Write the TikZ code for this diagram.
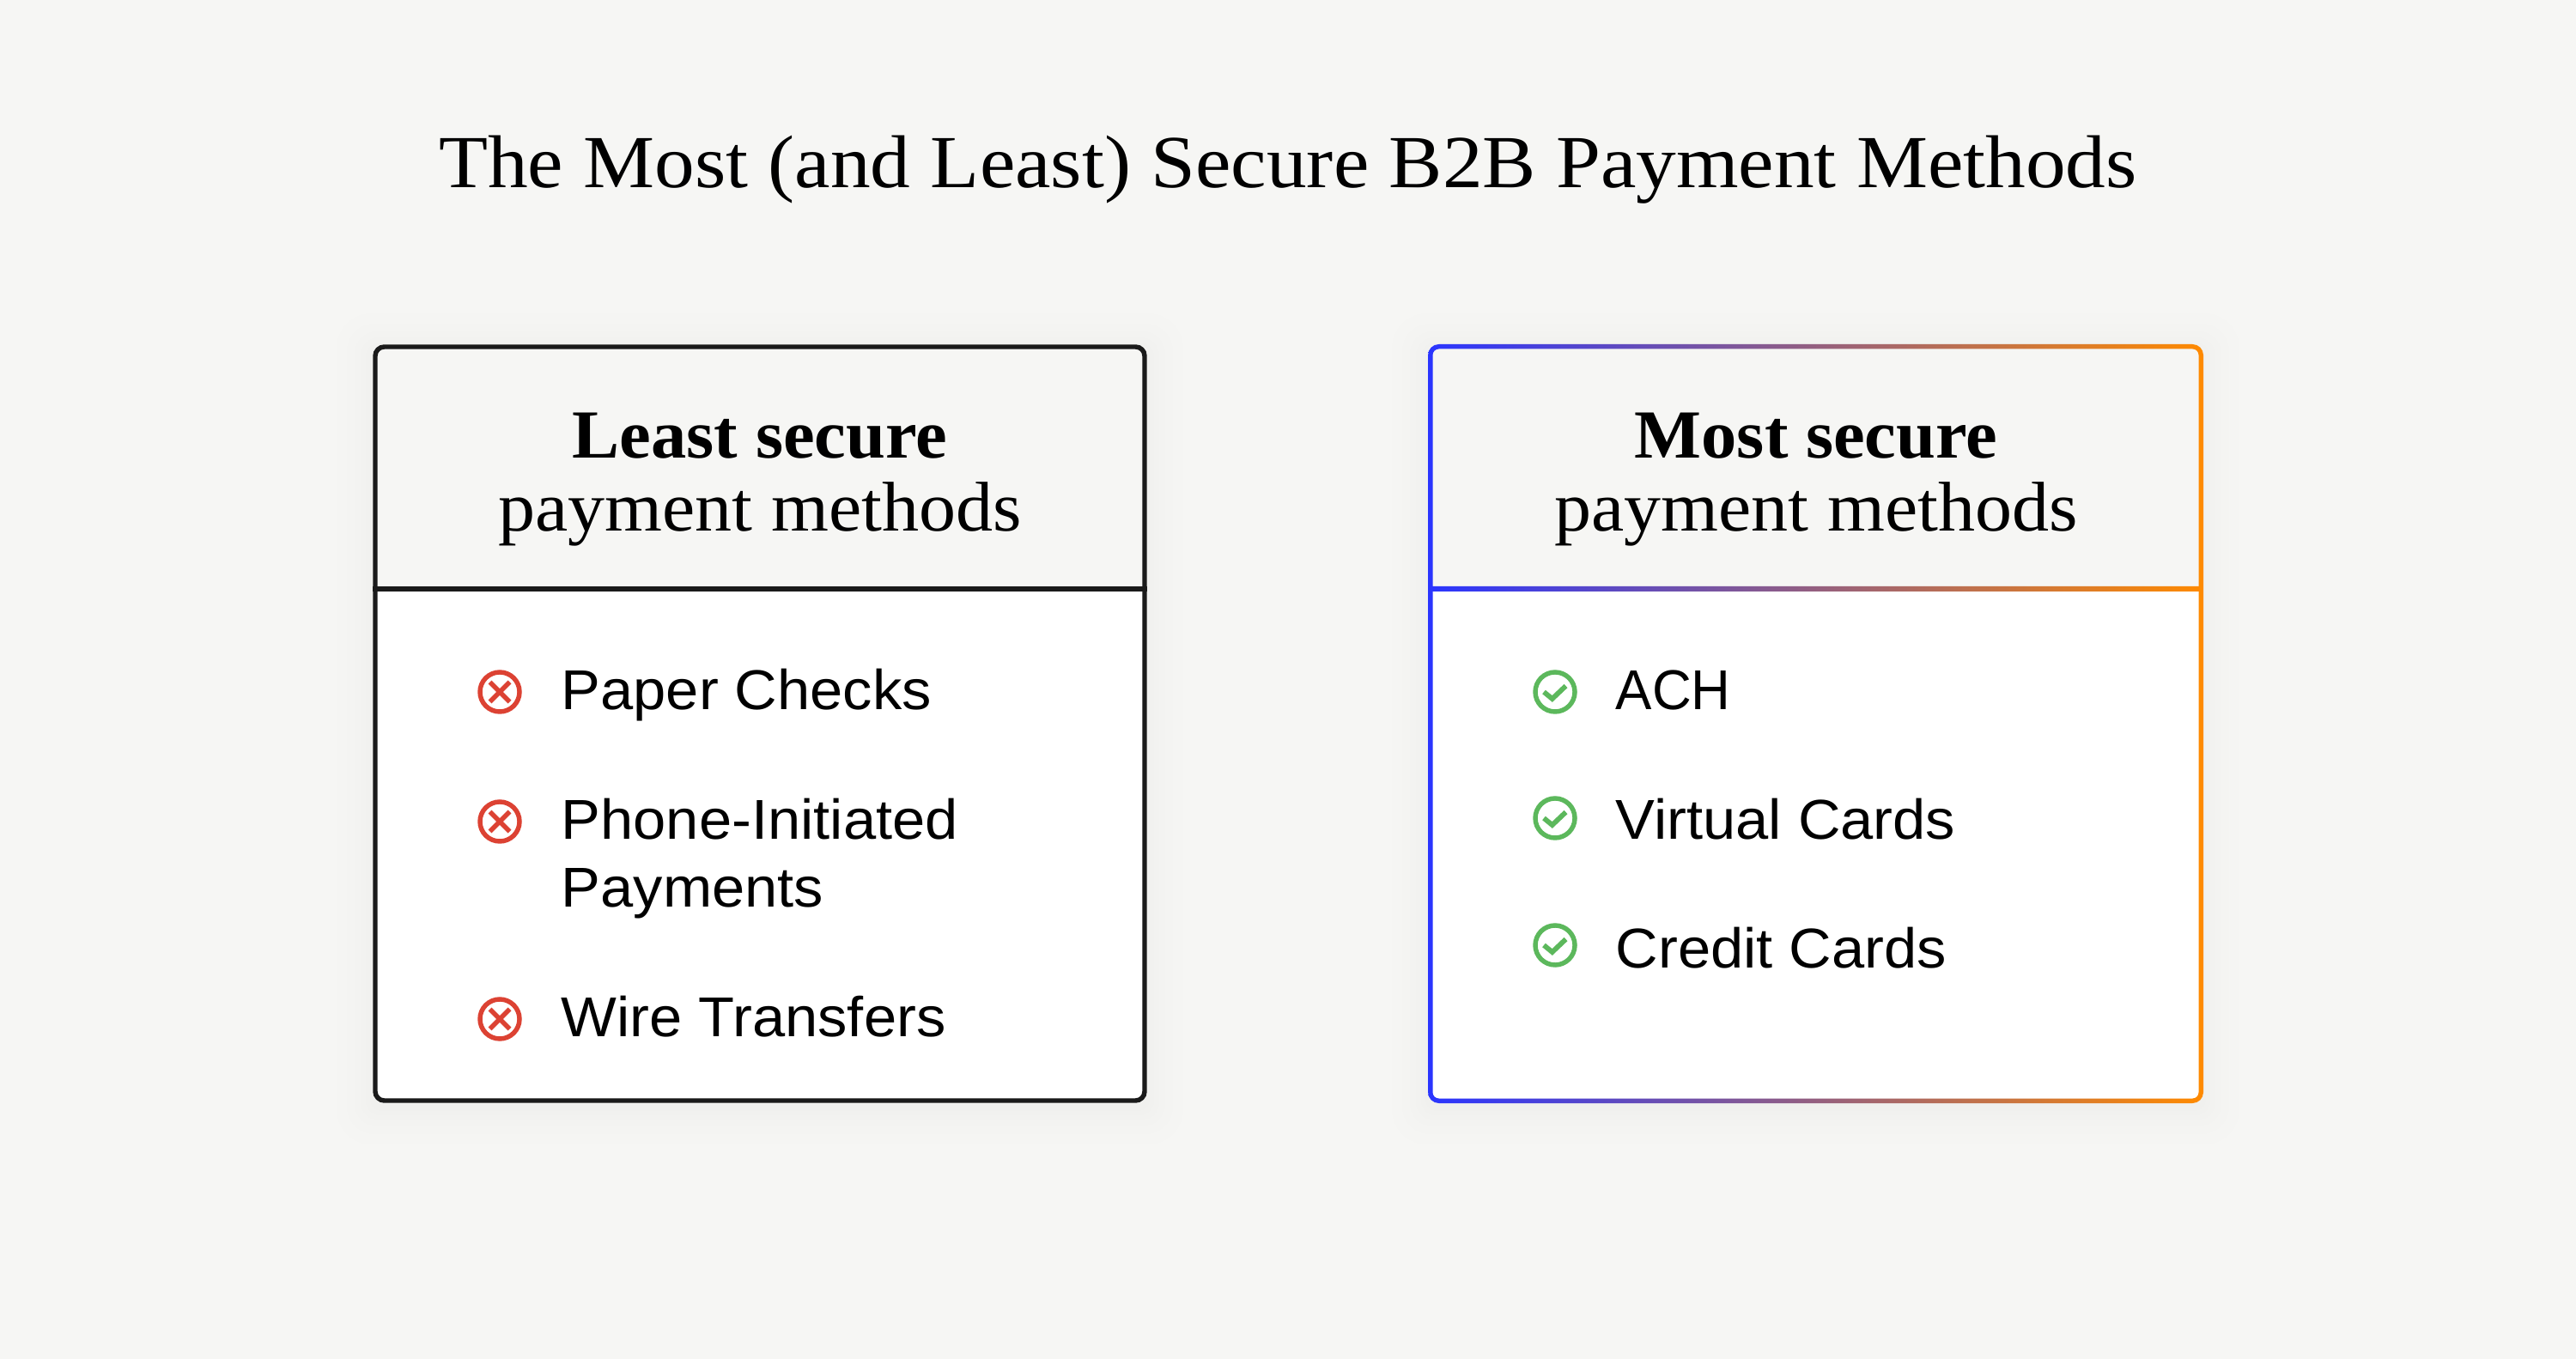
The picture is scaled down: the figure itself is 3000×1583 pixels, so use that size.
\documentclass[tikz,border=0pt]{standalone}
\usepackage{fontspec}
\setmainfont{Liberation Serif}
\newfontfamily\titlefont[FakeStretch=1.07]{Liberation Serif}
\newfontfamily\headfont[FakeStretch=1.03]{Liberation Serif}
\newfontfamily\subfont[FakeStretch=1.05]{Liberation Serif}
\newfontfamily\itemfont[FakeStretch=1.05]{Liberation Sans}
\newfontfamily\capsfont[FakeStretch=0.97]{Liberation Sans}
\definecolor{pagegray}{HTML}{F6F6F4}
\definecolor{framedark}{HTML}{1A1A1A}
\definecolor{crossred}{HTML}{DC4233}
\definecolor{checkgreen}{HTML}{5CB85C}
\definecolor{frameblue}{HTML}{2A35FF}
\definecolor{frameorange}{HTML}{FF8A00}
\tikzset{
    titletext/.style={anchor=base,inner sep=0pt,font=\titlefont\fontsize{24.8}{28}\selectfont},
    headbold/.style={anchor=base,inner sep=0pt,font=\headfont\fontsize{22.8}{26}\selectfont\bfseries},
    headthin/.style={anchor=base,inner sep=0pt,font=\subfont\fontsize{23.3}{26}\selectfont},
    itemtext/.style={anchor=base west,inner sep=0pt,font=\itemfont\fontsize{18.6}{22}\selectfont},
    achtext/.style={anchor=base west,inner sep=0pt,font=\capsfont\fontsize{18.6}{22}\selectfont},
    crossicon/.style={circle,draw=crossred,line width=1.55pt,minimum size=.46cm,inner sep=0pt,
        path picture={
            \draw[crossred,line width=1.55pt]
                ([shift={(-11.5,-11.5)}]path picture bounding box.center) -- ([shift={(11.5,11.5)}]path picture bounding box.center)
                ([shift={(-11.5,11.5)}]path picture bounding box.center) -- ([shift={(11.5,-11.5)}]path picture bounding box.center);
        }},
    checkicon/.style={circle,draw=checkgreen,line width=1.55pt,minimum size=.46cm,inner sep=0pt,
        path picture={
            \draw[checkgreen,line width=1.65pt]
                ([shift={(-13,0)}]path picture bounding box.center) -- ([shift={(-3.3,8)}]path picture bounding box.center)
                -- ([shift={(12.5,-7)}]path picture bounding box.center);
        }},
}
\begin{document}
\begin{tikzpicture}[x=0.01cm,y=-0.01cm]
    \useasboundingbox (0,0) rectangle (3000,1583);
    \fill[pagegray] (0,0) rectangle (3000,1583);
    % Schatten
    \foreach \r in {3,8,14,21,30,42} {
        \fill[black,opacity=0.004,rounded corners=\r*0.2pt+3pt] (434-\r,407-\r) rectangle (1336+\r,1291+\r);
        \fill[black,opacity=0.004,rounded corners=\r*0.2pt+3pt] (1663-\r,407-\r) rectangle (2566+\r,1291+\r);
    }
    % Titel
    \node[titletext] (title) at (1500,219) {The Most (and Least) Secure B2B Payment Methods};
    % Linke Box
    \fill[white,rounded corners=3pt] (437,404) rectangle (1333,1282);
    \fill[pagegray,rounded corners=3pt] (437,686) -- (437,404) -- (1333,404) -- (1333,686) -- cycle;
    \draw[framedark,line width=1.55pt,rounded corners=3pt] (437,404) rectangle (1333,1282);
    \draw[framedark,line width=1.55pt] (434,686) -- (1336,686);
    % Rechte Box
    \fill[white,rounded corners=3pt] (1666,404) rectangle (2563,1282);
    \fill[pagegray,rounded corners=3pt] (1666,686) -- (1666,404) -- (2563,404) -- (2563,686) -- cycle;
    \path[even odd rule,left color=frameblue,right color=frameorange]
        [rounded corners=3.6pt] (1663,401) rectangle (2566,1285)
        [sharp corners] (1668.5,683) [rounded corners=2pt] -- (1668.5,406.5) -- (2560.5,406.5) [sharp corners] -- (2560.5,683) -- cycle
        (1668.5,689) [rounded corners=2pt] -- (1668.5,1279.5) -- (2560.5,1279.5) [sharp corners] -- (2560.5,689) -- cycle;
    % Kopfzeilen
    \node[headbold] (leasthead) at (885,534) {Least secure};
    \node[headthin] (leastsub) at (885,619) {payment methods};
    \node[headbold] (mosthead) at (2115,534) {Most secure};
    \node[headthin] (mostsub) at (2115,619) {payment methods};
    % Linke Liste
    \node[crossicon] (papericon) at (582,806) {};
    \node[itemtext] (paper) at (653,827) {Paper Checks};
    \node[crossicon] (phoneicon) at (582,957) {};
    \node[itemtext] (phone) at (653,978) {Phone-Initiated};
    \node[itemtext] (phonetwo) at (653,1057) {Payments};
    \node[crossicon] (wireicon) at (582,1187) {};
    \node[itemtext] (wire) at (653,1208) {Wire Transfers};
    % Rechte Liste
    \node[checkicon] (achicon) at (1811,806) {};
    \node[achtext] (ach) at (1881,827) {ACH};
    \node[checkicon] (virtualicon) at (1811,953) {};
    \node[itemtext] (virtual) at (1881,978) {Virtual Cards};
    \node[checkicon] (crediticon) at (1811,1101) {};
    \node[itemtext] (credit) at (1881,1128) {Credit Cards};
\end{tikzpicture}
\end{document}
